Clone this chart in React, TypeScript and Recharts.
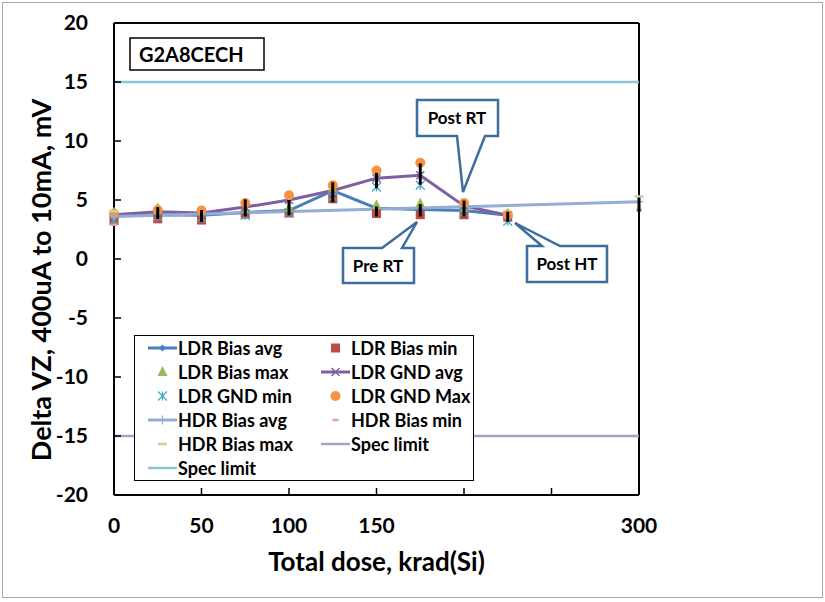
import React from 'react';
import { LineChart, Line, XAxis, YAxis, ErrorBar, Legend, Label, ReferenceLine } from 'recharts';

const FONT = 'Lato, "Open Sans", sans-serif';

// LDR measurements, krad(Si)
const ldrDoses = [0, 25, 50, 75, 100, 125, 150, 175, 200, 225];
const ldrBiasAvg = [3.65, 3.75, 3.7, 3.95, 4.1, 5.8, 4.3, 4.2, 4.1, 3.7];
const ldrBiasMin = [3.3, 3.4, 3.3, 3.8, 3.9, 5.1, 3.85, 3.75, 3.75, 3.55];
const ldrBiasMax = [3.95, 4.3, 4.0, 4.2, 4.3, 5.95, 4.55, 4.7, 4.35, 3.85];
const ldrGndAvg = [3.75, 4.0, 3.9, 4.4, 5.0, 5.8, 6.85, 7.1, 4.5, 3.7];
const ldrGndMin = [3.25, 3.6, 3.5, 3.7, 3.9, 5.3, 6.1, 6.25, 3.95, 3.2];
const ldrGndMax = [3.85, 4.15, 4.1, 4.75, 5.4, 6.25, 7.5, 8.15, 4.75, 3.75];

// black bars, null = none
const gndBarLow = [null, 3.4, 3.15, 3.6, 3.7, 4.8, 6.0, 6.3, 3.6, 3.15];
const gndBarHigh = [null, 4.4, 4.15, 5.05, 5.0, 6.5, 7.3, 8.1, 4.95, 4.0];
const biasBarLow = [null, null, null, null, null, null, 3.6, 3.6, null, null];
const biasBarHigh = [null, null, null, null, null, null, 4.45, 4.65, null, null];

// HDR measurements
const hdrDoses = [0, 300];
const hdrBiasAvg = [3.6, 4.85];
const hdrBiasMin = [2.9, 4.15];
const hdrBiasMax = [4.05, 5.3];
const hdrBarLow = [null, 4.0];
const hdrBarHigh = [null, 5.2];

// spec limits
const specDoses = [0, 300];
const specLow = [-15, -15];
const specHigh = [15, 15];

const xTicks = [0, 50, 100, 150, 200, 250, 300];
const xTickLabels = ['0', '50', '100', '150', '', '', '300'];
const yTicks = [-20, -15, -10, -5, 0, 5, 10, 15, 20];

const err = (avg: number, lo: number | null, hi: number | null) =>
  lo == null || hi == null ? null : [avg - lo, hi - avg];

const allDoses = Array.from(new Set([...ldrDoses, ...hdrDoses, ...specDoses])).sort((a, b) => a - b);
const data = allDoses.map((dose) => {
  const row: any = { dose };
  const i = ldrDoses.indexOf(dose);
  if (i >= 0) {
    row.ldrBiasAvg = ldrBiasAvg[i];
    row.ldrBiasMin = ldrBiasMin[i];
    row.ldrBiasMax = ldrBiasMax[i];
    row.ldrGndAvg = ldrGndAvg[i];
    row.ldrGndMin = ldrGndMin[i];
    row.ldrGndMax = ldrGndMax[i];
    row.gndErr = err(ldrGndAvg[i], gndBarLow[i], gndBarHigh[i]);
    row.biasErr = err(ldrBiasAvg[i], biasBarLow[i], biasBarHigh[i]);
  }
  const h = hdrDoses.indexOf(dose);
  if (h >= 0) {
    row.hdrBiasAvg = hdrBiasAvg[h];
    row.hdrBiasMin = hdrBiasMin[h];
    row.hdrBiasMax = hdrBiasMax[h];
    row.hdrErr = err(hdrBiasAvg[h], hdrBarLow[h], hdrBarHigh[h]);
  }
  const s = specDoses.indexOf(dose);
  if (s >= 0) {
    row.specLow = specLow[s];
    row.specHigh = specHigh[s];
  }
  return row;
});

type Shape = 'diamond' | 'square' | 'triangle' | 'x' | 'star' | 'circle' | 'plus' | 'dash' | 'none';

const series: { key: string; name: string; color: string; width: number; shape: Shape; size: number }[] = [
  { key: 'ldrBiasAvg', name: 'LDR Bias avg', color: '#4A7EBB', width: 3, shape: 'diamond', size: 7 },
  { key: 'ldrBiasMin', name: 'LDR Bias min', color: '#BE4B48', width: 0, shape: 'square', size: 9 },
  { key: 'ldrBiasMax', name: 'LDR Bias max', color: '#98B954', width: 0, shape: 'triangle', size: 10 },
  { key: 'ldrGndAvg', name: 'LDR GND avg', color: '#7D60A0', width: 3, shape: 'x', size: 8 },
  { key: 'ldrGndMin', name: 'LDR GND min', color: '#46AAC5', width: 0, shape: 'star', size: 9 },
  { key: 'ldrGndMax', name: 'LDR GND Max', color: '#F69240', width: 0, shape: 'circle', size: 10 },
  { key: 'hdrBiasAvg', name: 'HDR Bias avg', color: '#93ADD6', width: 3, shape: 'plus', size: 9 },
  { key: 'hdrBiasMin', name: 'HDR Bias min', color: '#E4A3A2', width: 0, shape: 'dash', size: 6 },
  { key: 'hdrBiasMax', name: 'HDR Bias max', color: '#C3D69B', width: 0, shape: 'dash', size: 9 },
  { key: 'specLow', name: 'Spec limit', color: '#AD9FCB', width: 2.5, shape: 'none', size: 0 },
  { key: 'specHigh', name: 'Spec limit', color: '#8CC7D8', width: 2.5, shape: 'none', size: 0 },
];

const Marker = ({ shape, cx, cy, color, size }: { shape: Shape; cx: number; cy: number; color: string; size: number }) => {
  const r = size / 2;
  switch (shape) {
    case 'diamond':
      return <polygon points={`${cx},${cy - r} ${cx + r},${cy} ${cx},${cy + r} ${cx - r},${cy}`} fill={color} />;
    case 'square':
      return <rect x={cx - r} y={cy - r} width={size} height={size} fill={color} />;
    case 'triangle':
      return <polygon points={`${cx},${cy - size * 0.6} ${cx + r},${cy + size * 0.4} ${cx - r},${cy + size * 0.4}`} fill={color} />;
    case 'x':
      return (
        <g stroke={color} strokeWidth={1.5}>
          <line x1={cx - r} y1={cy - r} x2={cx + r} y2={cy + r} />
          <line x1={cx - r} y1={cy + r} x2={cx + r} y2={cy - r} />
        </g>
      );
    case 'star':
      return (
        <g stroke={color} strokeWidth={1.3}>
          <line x1={cx - r} y1={cy - r} x2={cx + r} y2={cy + r} />
          <line x1={cx - r} y1={cy + r} x2={cx + r} y2={cy - r} />
          <line x1={cx} y1={cy - r} x2={cx} y2={cy + r} />
        </g>
      );
    case 'circle':
      return <circle cx={cx} cy={cy} r={r} fill={color} />;
    case 'plus':
      return (
        <g stroke={color} strokeWidth={1.3}>
          <line x1={cx - r} y1={cy} x2={cx + r} y2={cy} />
          <line x1={cx} y1={cy - r} x2={cx} y2={cy + r} />
        </g>
      );
    case 'dash':
      return <rect x={cx - r} y={cy - 1.3} width={size} height={2.6} fill={color} />;
    default:
      return null;
  }
};

const dotFor = (shape: Shape, color: string, size: number) => (props: any) => {
  const { cx, cy, index } = props;
  if (cx == null || cy == null || isNaN(cy) || props.value == null) return <g key={index} />;
  return (
    <g key={index}>
      <Marker shape={shape} cx={cx} cy={cy} color={color} size={size} />
    </g>
  );
};

const LegendBox = () => (
  <div
    style={{
      boxSizing: 'border-box',
      width: 340,
      height: 146,
      background: '#fff',
      border: '1.5px solid #000',
      display: 'grid',
      gridTemplateColumns: '173px 160px',
      gridAutoRows: '24px',
      paddingLeft: 13,
      fontFamily: FONT,
      fontWeight: 700,
      fontSize: 18,
      color: '#000',
    }}
  >
    {series.map((s, i) => (
      <div key={i} style={{ display: 'flex', alignItems: 'center', whiteSpace: 'nowrap' }}>
        <svg width={29} height={14} style={{ marginRight: 1 }}>
          {s.width > 0 && <line x1={0} y1={7} x2={29} y2={7} stroke={s.color} strokeWidth={s.width} />}
          <Marker shape={s.shape} cx={14.5} cy={7} color={s.color} size={Math.min(s.size, 10)} />
        </svg>
        <span>{s.name}</span>
      </div>
    ))}
  </div>
);

const Callout = ({ d, label, tx, ty }: { d: string; label: string; tx: number; ty: number }) => (
  <g>
    <path d={d} fill="#fff" stroke="#3E6E9E" strokeWidth={2.5} strokeLinejoin="miter" />
    <text x={tx} y={ty} textAnchor="middle" fontFamily={FONT} fontWeight={700} fontSize={17} fill="#000">
      {label}
    </text>
  </g>
);

const tickStyle = { fill: '#000', fontSize: 21, fontWeight: 700, fontFamily: FONT };

const barProps: any = { width: 0, stroke: '#000', strokeWidth: 3, direction: 'y', isAnimationActive: false, zIndex: 1500 };

export default function App() {
  return (
    <div style={{ position: 'absolute', left: 0, top: 0, width: 825, height: 602, background: '#fff' }}>
      <div style={{ position: 'absolute', left: 2, top: 2, width: 819, height: 594, border: '1px solid #a6a6a6' }} />
      <LineChart width={825} height={602} data={data} margin={{ top: 23, right: 186, bottom: 77, left: 0 }}>
        <XAxis
          dataKey="dose"
          type="number"
          domain={[0, 300]}
          ticks={xTicks}
          tickFormatter={(v: number) => xTickLabels[xTicks.indexOf(v)] ?? ''}
          interval={0}
          height={30}
          tickSize={-7}
          tickMargin={30}
          tick={tickStyle}
          axisLine={{ stroke: '#000', strokeWidth: 2 }}
          tickLine={{ stroke: '#000', strokeWidth: 1.5 }}
        >
          <Label
            content={({ viewBox }: any) => (
              <text
                x={viewBox.x + viewBox.width / 2}
                y={viewBox.y + viewBox.height + 46}
                textAnchor="middle"
                fontFamily={FONT}
                fontWeight={700}
                fontSize={26}
                fill="#000"
              >
                Total dose, krad(Si)
              </text>
            )}
          />
        </XAxis>
        <YAxis
          type="number"
          domain={[-20, 20]}
          ticks={yTicks}
          interval={0}
          width={114}
          tickSize={-7}
          tickMargin={33}
          tick={tickStyle}
          axisLine={{ stroke: '#000', strokeWidth: 2 }}
          tickLine={{ stroke: '#000', strokeWidth: 1.5 }}
        >
          <Label
            content={({ viewBox }: any) => {
              const x = 51;
              const y = viewBox.y + viewBox.height / 2 + 21;
              return (
                <text
                  x={x}
                  y={y}
                  transform={`rotate(-90 ${x} ${y})`}
                  textAnchor="middle"
                  fontFamily={FONT}
                  fontWeight={700}
                  fontSize={27}
                  fill="#000"
                >
                  Delta VZ, 400uA to 10mA, mV
                </text>
              );
            }}
          />
        </YAxis>
        <ReferenceLine x={300} stroke="#000" strokeWidth={2} />
        <ReferenceLine y={20} stroke="#000" strokeWidth={2} />
        {series.map((s) => (
          <Line
            key={s.key}
            dataKey={s.key}
            name={s.name}
            type="linear"
            stroke={s.width > 0 ? s.color : 'none'}
            strokeWidth={s.width}
            dot={s.shape === 'none' ? false : dotFor(s.shape, s.color, s.size)}
            activeDot={false}
            connectNulls
            isAnimationActive={false}
          />
        ))}
        {/* black bars drawn over the markers */}
        <Line dataKey="ldrGndAvg" stroke="none" dot={false} activeDot={false} legendType="none" isAnimationActive={false}>
          <ErrorBar dataKey="gndErr" {...barProps} />
        </Line>
        <Line dataKey="ldrBiasAvg" stroke="none" dot={false} activeDot={false} legendType="none" isAnimationActive={false}>
          <ErrorBar dataKey="biasErr" {...barProps} />
        </Line>
        <Line dataKey="hdrBiasAvg" stroke="none" dot={false} activeDot={false} legendType="none" isAnimationActive={false}>
          <ErrorBar dataKey="hdrErr" {...barProps} />
        </Line>
        <Legend
          layout="horizontal"
          verticalAlign="middle"
          align="center"
          content={() => <LegendBox />}
          wrapperStyle={{ left: 134, top: 335, width: 340, height: 146 }}
        />
      </LineChart>
      <svg width={825} height={602} style={{ position: 'absolute', left: 0, top: 0, pointerEvents: 'none' }}>
        <rect x={130} y={38} width={134} height={32} fill="#fff" stroke="#000" strokeWidth={1.5} />
        <text x={139} y={62} fontFamily={FONT} fontWeight={700} fontSize={20} fill="#000">
          G2A8CECH
        </text>
        <Callout d="M417,100 H498 V136 H485 L463,192 L457,136 H417 Z" label="Post RT" tx={457} ty={124} />
        <Callout d="M343,248 H382 L417,222 L402,248 H414 V283 H343 Z" label="Pre RT" tx={378} ty={272} />
        <Callout d="M527,246 H542 L515,223 L560,246 H607 V282 H527 Z" label="Post HT" tx={567} ty={270} />
      </svg>
    </div>
  );
}
